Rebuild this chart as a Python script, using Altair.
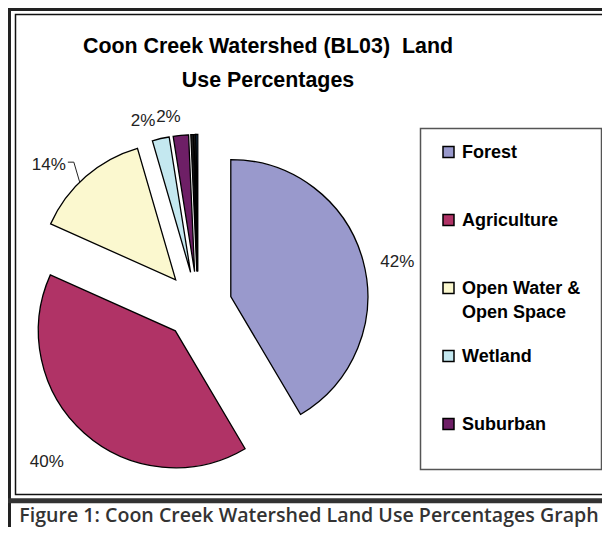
import altair as alt
import pandas as pd

# ---------------- data ----------------
categories = ["Forest", "Agriculture", "Open Water & Open Space", "Wetland",
              "Suburban", "Other A", "Other B", "Other C"]
percent = [41.5, 40.2, 13.8, 2.0, 1.8, 0.3, 0.2, 0.2]
colors = ["#9999cc", "#b03366", "#fbf8cf", "#c4e8f0", "#6e1f66",
          "#1c1c1c", "#3a3a3a", "#1f6fc0"]
legend_labels = ["Forest", "Agriculture", "Open Water &\nOpen Space",
                 "Wetland", "Suburban"]
title_lines = ["Coon Creek Watershed (BL03)\u00a0\u00a0Land", "Use Percentages"]
caption_text = "Figure 1: Coon Creek Watershed Land Use Percentages Graph"

# ---------------- layout (image pixel coords, OFF = page margin) ----------------
W, H = 594, 519
OFF = 8
CX, CY = 198 - OFF, 305.5 - OFF   # pie centre before explosion
EXPLODE = 34
R = 137
LRX, LRY = 181, 164              # label ellipse radii
LDX, LDY = -8, 9                 # label nudge
FONT = "Liberation Sans"

df = pd.DataFrame({"cat": categories, "pct": percent,
                   "order": list(range(len(categories))), "color": colors})

base = (
    alt.Chart(df)
    .transform_joinaggregate(total="sum(pct)")
    .transform_window(cum="sum(pct)", sort=[alt.SortField("order")], frame=[None, 0])
    .transform_calculate(t1="2*PI*(datum.cum-datum.pct)/datum.total")
    .transform_calculate(t2="2*PI*datum.cum/datum.total")
    .transform_calculate(mid="(datum.t1+datum.t2)/2")
    .transform_calculate(ax=f"{CX}+{EXPLODE}*sin(datum.mid)")
    .transform_calculate(ay=f"{CY}-{EXPLODE}*cos(datum.mid)")
)

arcs = base.mark_arc(outerRadius=R, stroke="black", strokeWidth=1.3).encode(
    x=alt.X("ax:Q", scale=None, axis=None),
    y=alt.Y("ay:Q", scale=None, axis=None),
    theta=alt.Theta("t1:Q", scale=None),
    theta2="t2:Q",
    color=alt.Color("color:N", scale=None, legend=None),
)

lab_base = (
    base.transform_filter("datum.order < 5")
    .transform_calculate(lx=f"datum.ax+{LRX}*sin(datum.mid)+({LDX})")
    .transform_calculate(ly=f"datum.ay-{LRY}*cos(datum.mid)+({LDY})")
)

labels = (
    lab_base.transform_calculate(lab="round(datum.pct)+'%'")
    .mark_text(font=FONT, fontSize=17, color="#222222", baseline="middle", align="center")
    .encode(x=alt.X("lx:Q", scale=None, axis=None),
            y=alt.Y("ly:Q", scale=None, axis=None),
            text="lab:N")
)

# small leader line for the Open Water label
lead_base = (
    lab_base.transform_filter("datum.order == 2")
    .transform_calculate(hx1="datum.lx+19", hx2="datum.lx+25", hy="datum.ly-3")
    .transform_calculate(px=f"datum.ax+{R}*sin(datum.mid-0.06)",
                         py=f"datum.ay-{R}*cos(datum.mid-0.06)")
)
lead_h = lead_base.mark_rule(color="#222222", strokeWidth=1).encode(
    x=alt.X("hx1:Q", scale=None, axis=None), x2="hx2:Q",
    y=alt.Y("hy:Q", scale=None, axis=None))
lead_d = lead_base.mark_rule(color="#222222", strokeWidth=1).encode(
    x=alt.X("hx2:Q", scale=None, axis=None), x2="px:Q",
    y=alt.Y("hy:Q", scale=None, axis=None), y2="py:Q")

one = pd.DataFrame({"a": [0]})

def box(x1, y1, x2, y2, stroke, sw, fill=None):
    kw = dict(stroke=stroke, strokeWidth=sw)
    if fill is None:
        kw["fillOpacity"] = 0
        kw["fill"] = "white"
    else:
        kw["fill"] = fill
    return alt.Chart(one).mark_rect(**kw).encode(
        x=alt.value(x1 - OFF), x2=alt.value(x2 - OFF),
        y=alt.value(y1 - OFF), y2=alt.value(y2 - OFF))

outer = box(9.5, 9.5, 640, 640, "#222222", 3)
inner = box(15.5, 14.5, 640, 494.5, "#111111", 1.5)
sep = box(0, 499.5, 640, 502, "#333333", 2.5, fill="#333333")
legend_box = box(420.5, 128.5, 601.5, 469.5, "#555555", 1.5)

title = alt.Chart(one).mark_text(
    text=title_lines, font=FONT, fontSize=21.4, fontWeight="bold",
    color="black", align="center", baseline="alphabetic", lineHeight=34
).encode(x=alt.value(268 - OFF), y=alt.value(53 - OFF))

caption = alt.Chart(one).mark_text(
    text=caption_text, font="Open Sans", fontSize=19.6, fontWeight=600,
    color="#333333", align="center", baseline="alphabetic"
).encode(x=alt.value(309 - OFF), y=alt.value(522 - OFF))

leg_df = pd.DataFrame({"label": legend_labels, "color": colors[:5],
                       "i": list(range(5))})
leg_base = alt.Chart(leg_df).transform_calculate(
    ly=f"152-{OFF}+datum.i*68")
leg_sym = leg_base.mark_square(size=121, stroke="black", strokeWidth=1.5, opacity=1).encode(
    x=alt.value(448.5 - OFF), y=alt.Y("ly:Q", scale=None, axis=None),
    fill=alt.Color("color:N", scale=None, legend=None))
leg_txt = leg_base.transform_calculate(ty="datum.ly+6").mark_text(
    font=FONT, fontSize=18, fontWeight="bold", align="left", baseline="alphabetic",
    lineBreak="\n", lineHeight=24, color="black").encode(
    x=alt.value(462 - OFF), y=alt.Y("ty:Q", scale=None, axis=None), text="label:N")

chart = alt.layer(outer, inner, sep, legend_box, arcs, labels, lead_h, lead_d,
                  title, caption, leg_sym, leg_txt).properties(
    width=W, height=H, padding=0, autosize="none",
    background="white"
).configure_view(stroke=None)

chart.save("out.html", embed_options={"renderer": "svg", "actions": False})
